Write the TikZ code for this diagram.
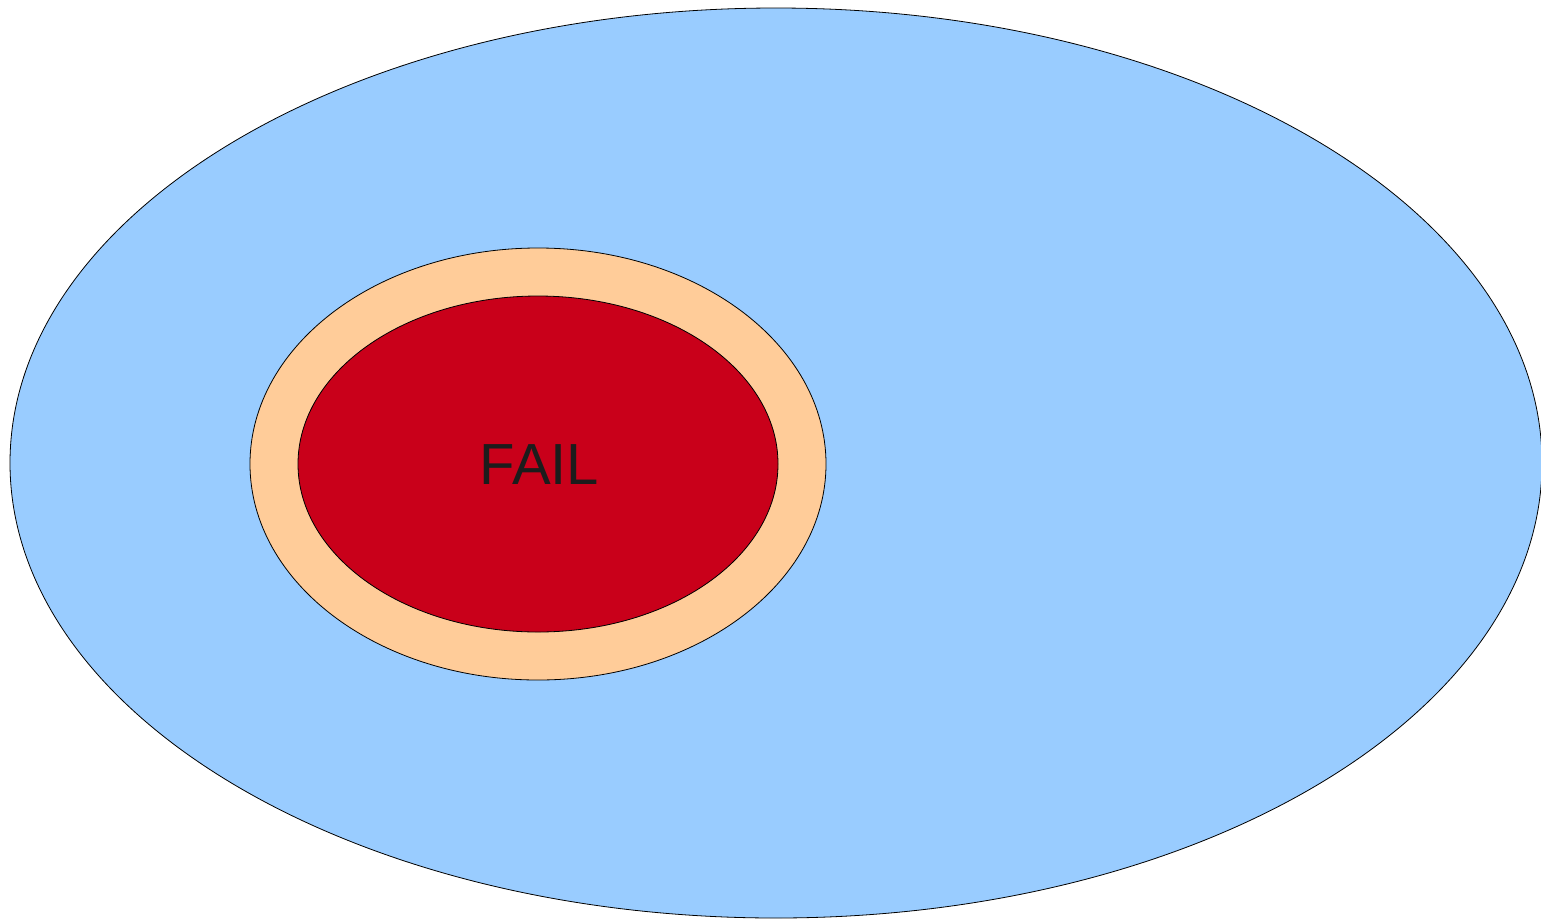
\documentclass[tikz,border=0pt]{standalone}
\usepackage{fontspec}
\setmainfont{Liberation Sans}
\definecolor{outerblue}{HTML}{99CCFF}
\definecolor{peach}{HTML}{FFCC99}
\definecolor{failred}{HTML}{C9001A}
\definecolor{txt}{HTML}{1C1C1C}
\tikzset{ring/.style={draw=black, line width=0.8pt}}
\begin{document}
\begin{tikzpicture}[x=1pt,y=-1pt]
\useasboundingbox (0,0) rectangle (1541,919);
\begin{scope}
\clip (0,0) rectangle (1541,919);
\draw[ring, fill=outerblue] (776,463) ellipse [x radius=766, y radius=455];
\end{scope}
\draw[ring, fill=peach] (538,464) ellipse [x radius=288, y radius=216];
\draw[ring, fill=failred] (538,464) ellipse [x radius=240, y radius=168];
\node[text=txt, font=\fontsize{58}{66}\selectfont, inner sep=0pt, anchor=base] (fail) at (539.5,484) {FAIL};
\end{tikzpicture}
\end{document}
